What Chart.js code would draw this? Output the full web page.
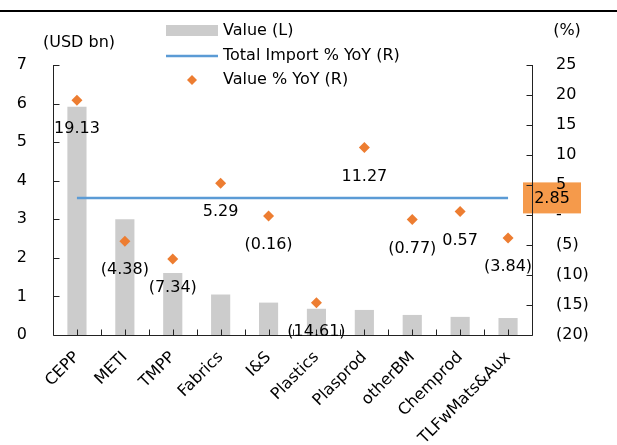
<!DOCTYPE html>
<html>
<head>
<meta charset="utf-8">
<script src="https://cdn.jsdelivr.net/npm/chart.js@4.4.1/dist/chart.umd.min.js"></script>
<style>
  html, body { margin: 0; padding: 0; background: #fff; }
  #wrap { width: 617px; height: 445px; position: relative; }
</style>
</head>
<body>
<div id="wrap"><canvas id="c" width="617" height="445"></canvas></div>
<script>
// Import categories
const categories = ['CEPP', 'METI', 'TMPP', 'Fabrics', 'I&S', 'Plastics', 'Plasprod', 'otherBM', 'Chemprod', 'TLFwMats&Aux'];
// Import value, USD bn (left axis)
const importValue = [5.92, 3.00, 1.61, 1.05, 0.84, 0.68, 0.65, 0.52, 0.47, 0.44];
// Value % YoY (right axis)
const valueYoY = [19.13, -4.38, -7.34, 5.29, -0.16, -14.61, 11.27, -0.77, 0.57, -3.84];
// Total import % YoY (right axis)
const totalImportYoY = 2.85;
const totalImportLine = categories.map(() => totalImportYoY);

const FONT = 'DejaVu Sans';
const fmtPct = v => v < 0 ? '(' + Math.abs(v).toFixed(2) + ')' : v.toFixed(2);
const fmtAxisPct = v => v === 0 ? '-' : (v < 0 ? '(' + Math.abs(v) + ')' : String(v));

const decor = {
  id: 'decor',
  beforeDraw(chart) {
    const ctx = chart.ctx;
    const y1 = chart.scales.y1;
    // highlighted total-import value on the right axis
    const py = y1.getPixelForValue(totalImportYoY);
    ctx.save();
    ctx.fillStyle = '#F59A4B';
    ctx.fillRect(523, py - 15.5, 58, 31);
    ctx.fillStyle = '#000';
    ctx.font = '16px ' + FONT;
    ctx.textAlign = 'center';
    ctx.textBaseline = 'middle';
    ctx.fillText(totalImportYoY.toFixed(2), 552, py + 1);
    ctx.restore();
  },
  afterDatasetsDraw(chart) {
    const ctx = chart.ctx;
    const { x, y, y1 } = chart.scales;
    const area = chart.chartArea;
    ctx.save();
    // top rule
    ctx.fillStyle = '#000';
    ctx.fillRect(0, 10, 617, 2);

    // axes
    ctx.strokeStyle = '#222';
    ctx.lineWidth = 1;
    ctx.beginPath();
    const L = Math.round(area.left) + 0.5, R = Math.round(area.right) + 0.5, B = Math.round(area.bottom) + 0.5;
    ctx.moveTo(L, Math.round(area.top)); ctx.lineTo(L, B);
    ctx.moveTo(R, Math.round(area.top)); ctx.lineTo(R, B);
    ctx.moveTo(L, B); ctx.lineTo(R, B);
    for (let v = 0; v <= 7; v++) {
      const py = Math.round(y.getPixelForValue(v)) + 0.5;
      ctx.moveTo(L, py); ctx.lineTo(L + 6, py);
    }
    for (let v = -20; v <= 25; v += 5) {
      const py = Math.round(y1.getPixelForValue(v)) + 0.5;
      ctx.moveTo(R, py); ctx.lineTo(R - 6, py);
    }
    for (let i = 0; i < categories.length; i++) {
      const c = x.getPixelForValue(i);
      const half = (x.getPixelForValue(1) - x.getPixelForValue(0)) / 2;
      const pc = Math.round(c) + 0.5;
      ctx.moveTo(pc, B); ctx.lineTo(pc, B - 6);
      if (i < categories.length - 1) {
        const pb = Math.round(c + half) + 0.5;
        ctx.moveTo(pb, B); ctx.lineTo(pb, B - 6);
      }
    }
    ctx.stroke();

    // value labels under the YoY points
    const meta = chart.getDatasetMeta(2);
    ctx.fillStyle = '#000';
    ctx.font = '16px ' + FONT;
    ctx.textAlign = 'center';
    ctx.textBaseline = 'middle';
    meta.data.forEach((pt, i) => {
      ctx.fillText(fmtPct(valueYoY[i]), pt.x, pt.y + 29);
    });

    // axis titles
    ctx.font = '16px ' + FONT;
    ctx.fillText('(USD bn)', 79, 43);
    ctx.fillText('(%)', 567, 31);

    // legend
    const ds = chart.data.datasets;
    ctx.textAlign = 'left';
    ctx.fillStyle = ds[0].backgroundColor;
    ctx.fillRect(166, 25, 52, 11);
    ctx.strokeStyle = ds[1].borderColor;
    ctx.lineWidth = 2.5;
    ctx.beginPath(); ctx.moveTo(166, 56); ctx.lineTo(218, 56); ctx.stroke();
    ctx.fillStyle = ds[2].backgroundColor;
    ctx.beginPath();
    ctx.moveTo(192, 75); ctx.lineTo(197, 80); ctx.lineTo(192, 85); ctx.lineTo(187, 80); ctx.closePath();
    ctx.fill();
    ctx.fillStyle = '#000';
    ctx.fillText(ds[0].label, 223, 31);
    ctx.fillText(ds[1].label, 223, 56);
    ctx.fillText(ds[2].label, 223, 80);
    ctx.restore();
  }
};

new Chart(document.getElementById('c'), {
  data: {
    labels: categories,
    datasets: [
      {
        type: 'bar', label: 'Value (L)', data: importValue, yAxisID: 'y',
        backgroundColor: '#CCCCCC', borderWidth: 0,
        barPercentage: 0.8, categoryPercentage: 0.5, order: 3
      },
      {
        type: 'line', label: 'Total Import % YoY (R)', data: totalImportLine, yAxisID: 'y1',
        borderColor: '#5B9BD5', borderWidth: 2.5, pointRadius: 0, fill: false, order: 2
      },
      {
        type: 'line', label: 'Value % YoY (R)', data: valueYoY, yAxisID: 'y1',
        showLine: false, pointStyle: 'rectRot', pointRadius: 5.5,
        backgroundColor: '#ED7D31', borderColor: '#ED7D31', borderWidth: 0, order: 1
      }
    ]
  },
  options: {
    responsive: false,
    animation: false,
    devicePixelRatio: 1,
    layout: { padding: { top: 65, left: 0, right: 0, bottom: 0 } },
    plugins: { legend: { display: false }, tooltip: { enabled: false } },
    scales: {
      x: {
        offset: true,
        grid: { display: false, drawTicks: false },
        border: { display: false },
        ticks: { color: '#000', font: { family: FONT, size: 16 }, maxRotation: 45, minRotation: 45, padding: 13, autoSkip: false },
        afterFit: s => { s.height = 110; }
      },
      y: {
        position: 'left', min: 0, max: 7,
        grid: { display: false, drawTicks: false },
        border: { display: false },
        ticks: { stepSize: 1, color: '#000', font: { family: FONT, size: 16 }, padding: 26 },
        afterFit: s => { s.width = 53; }
      },
      y1: {
        position: 'right', min: -20, max: 25,
        grid: { display: false, drawTicks: false },
        border: { display: false },
        ticks: { stepSize: 5, color: '#000', font: { family: FONT, size: 16 }, padding: 24, callback: v => fmtAxisPct(v) },
        afterFit: s => { s.width = 85; }
      }
    }
  },
  plugins: [decor]
});
</script>
</body>
</html>
